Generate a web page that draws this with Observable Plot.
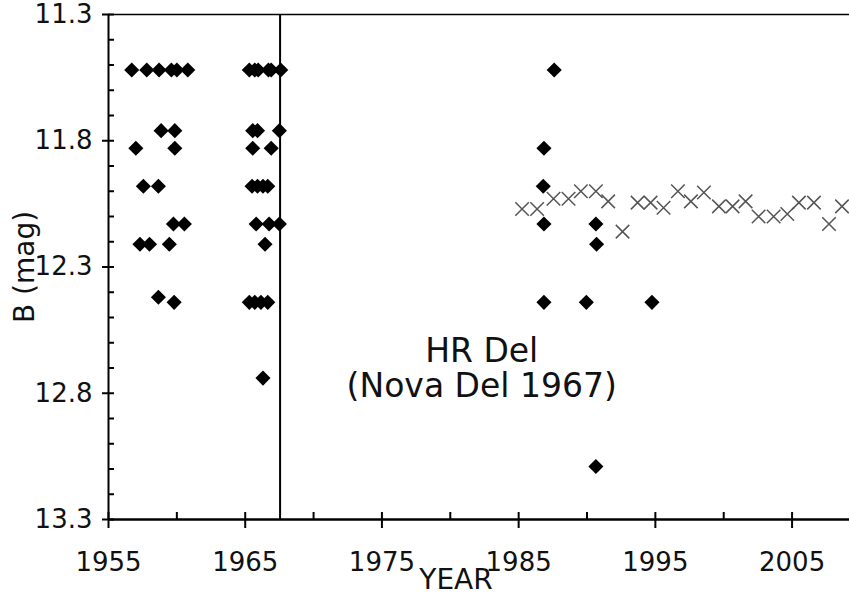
<!DOCTYPE html>
<html><head><meta charset="utf-8">
<script src="https://cdn.jsdelivr.net/npm/d3@7"></script>
<script src="https://cdn.jsdelivr.net/npm/@observablehq/plot@0.6"></script>
<style>body{margin:0;background:#fff} svg{display:block}</style>
</head><body><div id="chart"></div>
<script>
// Photographic B magnitudes — diamonds
const diamondYears = [
  1956.7, 1957.8, 1958.7, 1959.6, 1960.0, 1960.8,
  1965.3, 1965.7, 1965.95, 1966.7, 1966.9, 1967.6,
  1958.85, 1959.85, 1965.55, 1965.9, 1967.5,
  1957.0, 1959.85, 1965.55, 1966.9,
  1957.55, 1958.65, 1965.5, 1965.9, 1966.3, 1966.65,
  1959.75, 1960.55, 1965.8, 1966.75, 1967.5,
  1957.3, 1958.0, 1959.45, 1966.45,
  1958.65,
  1959.8, 1965.3, 1965.7, 1966.15, 1966.65,
  1966.3,
  1987.6, 1986.85, 1986.8, 1986.85, 1990.65, 1990.7,
  1986.85, 1989.95, 1994.75, 1990.65
];
const diamondMags = [
  11.52, 11.52, 11.52, 11.52, 11.52, 11.52,
  11.52, 11.52, 11.52, 11.52, 11.52, 11.52,
  11.76, 11.76, 11.76, 11.76, 11.76,
  11.83, 11.83, 11.83, 11.83,
  11.98, 11.98, 11.98, 11.98, 11.98, 11.98,
  12.13, 12.13, 12.13, 12.13, 12.13,
  12.21, 12.21, 12.21, 12.21,
  12.42,
  12.44, 12.44, 12.44, 12.44, 12.44,
  12.74,
  11.52, 11.83, 11.98, 12.13, 12.13, 12.21,
  12.44, 12.44, 12.44, 13.09
];
// Yearly means — crosses
const crossYears = [
  1985.25, 1986.35, 1987.55, 1988.65, 1989.55, 1990.65, 1991.55, 1992.6,
  1993.7, 1994.65, 1995.6, 1996.65, 1997.6, 1998.55, 1999.65, 2000.65,
  2001.6, 2002.55, 2003.65, 2004.65, 2005.5, 2006.6, 2007.7, 2008.65
];
const crossMags = [
  12.07, 12.07, 12.03, 12.03, 12.0, 12.0, 12.04, 12.16,
  12.045, 12.045, 12.065, 12.0, 12.04, 12.005, 12.06, 12.06,
  12.04, 12.1, 12.1, 12.09, 12.045, 12.045, 12.13, 12.06
];
const novaYear = [1967.55];
const xMajorTicks = [1955, 1965, 1975, 1985, 1995, 2005];
const xMinorTicks = [1960, 1970, 1980, 1990, 2000];
const yMajorTicks = [11.3, 11.8, 12.3, 12.8, 13.3];
const yMinorTicks = [11.4, 11.5, 11.6, 11.7, 11.9, 12.0, 12.1, 12.2,
  12.4, 12.5, 12.6, 12.7, 12.9, 13.0, 13.1, 13.2];
const xLabel = "YEAR";
const yLabel = "B (mag)";
const noteText = "HR Del\n(Nova Del 1967)";
const noteAt = {year: 1982.3, mag: 12.70};

const diamonds = diamondYears.map((x, i) => ({x, y: diamondMags[i]}));
const crosses = crossYears.map((x, i) => ({x, y: crossMags[i]}));
const font = "DejaVu Sans, Verdana, sans-serif";
const yMin = 11.3, yMax = 13.3, xMin = 1955;

const chart = Plot.plot({
  width: 849,
  height: 596,
  marginLeft: 108,
  marginRight: 0,
  marginTop: 14,
  marginBottom: 77,
  style: {fontFamily: font, background: "#fff", color: "#111"},
  x: {domain: [xMin, 2009.2]},
  y: {domain: [yMin, yMax], reverse: true},
  marks: [
    Plot.ruleY([yMin], {stroke: "#000", strokeWidth: 1.5}),
    Plot.ruleX(novaYear, {stroke: "#000", strokeWidth: 2}),
    Plot.dot(crosses, {x: "x", y: "y", symbol: "times", r: 6.2, stroke: "#555", strokeWidth: 1.5}),
    Plot.dot(diamonds, {x: "x", y: "y", symbol: "diamond2", r: 6.8, fill: "#000", stroke: "none"}),
    Plot.text([noteText], {x: () => noteAt.year, y: () => noteAt.mag, fontSize: 33, lineHeight: 1.08, fill: "#111", textAnchor: "middle", lineAnchor: "middle"}),
    // tick marks: minor inward, major crossing the axis
    Plot.ruleX(xMinorTicks, {y1: yMax, y2: yMax, insetTop: -7, insetBottom: 0, stroke: "#000", strokeWidth: 2}),
    Plot.ruleX(xMajorTicks, {y1: yMax, y2: yMax, insetTop: -7, insetBottom: -9, stroke: "#000", strokeWidth: 2}),
    Plot.ruleY(yMinorTicks, {x1: xMin, x2: xMin, insetLeft: 0, insetRight: -6, stroke: "#000", strokeWidth: 2}),
    Plot.ruleY(yMajorTicks, {x1: xMin, x2: xMin, insetLeft: -6, insetRight: -6, stroke: "#000", strokeWidth: 2}),
    // tick labels
    Plot.axisX(xMajorTicks, {tickSize: 0, tickPadding: 33, tickFormat: d => String(d), fontSize: 26, label: null, fill: "#111"}),
    Plot.axisY(yMajorTicks, {tickSize: 0, tickPadding: 16, tickFormat: d => d.toFixed(1), fontSize: 26, label: null, fill: "#111"}),
    Plot.ruleX([xMin], {stroke: "#000", strokeWidth: 2}),
    Plot.ruleY([yMax], {stroke: "#000", strokeWidth: 2.5}),
    Plot.text([xLabel], {frameAnchor: "bottom", dx: -23, dy: 61, fontSize: 28, fill: "#111", lineAnchor: "middle"}),
    Plot.text([yLabel], {frameAnchor: "left", dx: -94, rotate: -90, fontSize: 28, fill: "#111", lineAnchor: "top", textAnchor: "middle"})
  ]
});
document.getElementById("chart").appendChild(chart);
</script>
</body></html>
